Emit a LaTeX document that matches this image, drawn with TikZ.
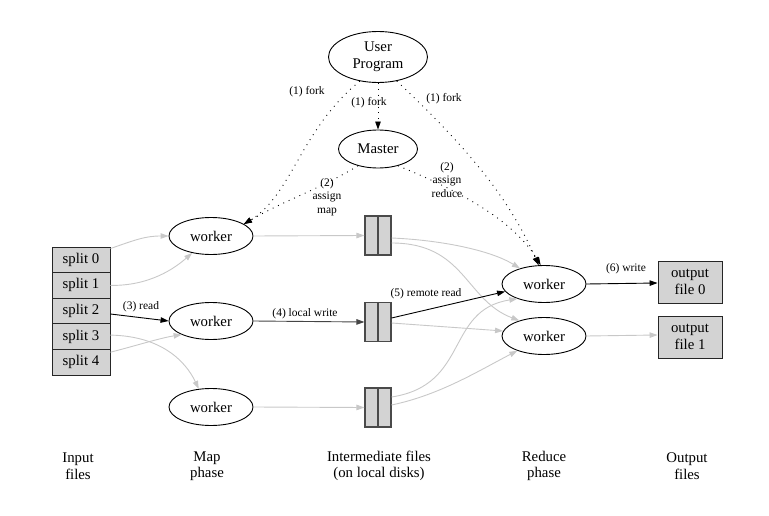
\documentclass[tikz,border=0pt]{standalone}
\usepackage{fontspec}
\setmainfont{Liberation Serif}
\usetikzlibrary{shapes.geometric,arrows.meta}
\definecolor{boxfill}{HTML}{D3D3D3}
\definecolor{lightedge}{HTML}{C8C8C8}
\definecolor{darkedge}{HTML}{454545}
\definecolor{boxline}{HTML}{4A4A4A}
\begin{document}
\begin{tikzpicture}[x=1pt,y=-1pt,
  every node/.style={font=\fontsize{14.8}{17}\selectfont, align=center, inner sep=0pt},
  proc/.style={ellipse, draw, line width=0.9pt, minimum width=84pt, minimum height=37pt},
  splitbox/.style={rectangle, draw=black!85, fill=boxfill, line width=0.9pt, minimum width=58pt, minimum height=25.6pt},
  filebox/.style={rectangle, draw=boxline, fill=boxfill, line width=1.1pt, minimum width=26pt, minimum height=39pt},
  outbox/.style={rectangle, draw=black!85, fill=boxfill, line width=0.9pt, minimum width=64pt, minimum height=42pt},
  lbl/.style={font=\fontsize{11.5}{13.5}\selectfont, fill=none},
  capt/.style={font=\fontsize{14.8}{16.5}\selectfont},
  tip/.style={-{Triangle[length=8pt,width=5.5pt]}},
  greyedge/.style={tip, draw=lightedge, line width=0.9pt},
  blackedge/.style={tip, draw=black, line width=0.9pt},
  dotedge/.style={tip, draw=black, line width=0.9pt, dash pattern=on 0.9pt off 5pt},
]
\path[use as bounding box] (0,0) rectangle (769,516);

% nodes
\node[proc, minimum width=99pt, minimum height=51pt] (up) at (378,57) {User\\Program};
\node[proc, minimum width=79pt, minimum height=38pt] (ms) at (378,149) {Master};

\node[proc] (w1) at (211,236) {worker};
\node[proc] (w2) at (211,321) {worker};
\node[proc] (w3) at (211,407) {worker};

\node[splitbox] (s0) at (81,259.8) {split 0};
\node[splitbox] (s1) at (81,285.4) {split 1};
\node[splitbox] (s2) at (81,311.0) {split 2};
\node[splitbox] (s3) at (81,336.6) {split 3};
\node[splitbox] (s4) at (81,362.2) {split 4};

\node[filebox] (f1) at (378,235.5) {};
\node[filebox] (f2) at (378,322) {};
\node[filebox] (f3) at (378,407.5) {};
\foreach \f in {f1,f2,f3} \draw[boxline, line width=1.1pt] (\f.north) -- (\f.south);

\node[proc] (r1) at (544,284) {worker};
\node[proc] (r2) at (544,336) {worker};

\node[outbox] (o0) at (690,282) {output\\file 0};
\node[outbox] (o1) at (690,337) {output\\file 1};

% captions
\node[capt] (c1) at (78,466) {Input\\files};
\node[capt] (c2) at (207,466) {Map\\phase};
\node[capt] (c3) at (379,466) {Intermediate files\\(on local disks)};
\node[capt] (c4) at (544,466) {Reduce\\phase};
\node[capt] (c5) at (687,466) {Output\\files};

% dotted control edges
\draw[dotedge] (up.233) .. controls (300,130) and (292,195) .. (w1.20);
\draw[dotedge] (up.south) -- (ms.north);
\draw[dotedge] (up.-52) .. controls (470,150) and (510,200) .. (r1.106);
\draw[dotedge] (ms.-140) .. controls (318,190) and (285,200) .. (w1.20);
\draw[dotedge] (ms.-40) .. controls (445,185) and (510,215) .. (r1.100);

\node[lbl] (l1a) at (307,92) {(1) fork};
\node[lbl] (l1b) at (369,103) {(1) fork};
\node[lbl] (l1c) at (444,99) {(1) fork};
\node[lbl] (l2a) at (327,197) {(2)\\assign\\map};
\node[lbl] (l2b) at (447,180) {(2)\\assign\\reduce};

% input splits to map workers
\draw[greyedge] ([yshift=-2pt]s0.north east) .. controls (135,240) and (145,236) .. (w1.west);
\draw[greyedge] (s1.east) .. controls (150,286) and (175,268) .. (w1.222);
\draw[blackedge] ([yshift=-3pt]s2.east) -- (w2.west);
\node[lbl] (l3) at (141,307) {(3) read};
\draw[greyedge] ([yshift=1.5pt]s3.east) .. controls (160,336) and (185,360) .. (w3.124);
\draw[greyedge] ([yshift=10pt]s4.east) .. controls (135,346) and (160,338) .. (w2.205);

% map workers to intermediate files
\draw[greyedge] (w1.east) -- (f1.west);
\draw[tip, draw=darkedge, line width=0.9pt] (w2.east) -- (f2.west);
\node[lbl] (l4) at (305,314) {(4) local write};
\draw[greyedge] (w3.east) -- (f3.west);

% intermediate files to reduce workers
\draw[greyedge] ([yshift=-2.5pt]f1.east) .. controls (440,240) and (490,250) .. (r1.147);
\draw[greyedge] ([yshift=-7.5pt]f1.east) .. controls (465,243) and (465,300) .. (r2.148);
\draw[blackedge] ([yshift=4pt]f2.east) -- (r1.191);
\node[lbl] (l5) at (426,294) {(5) remote read};
\draw[greyedge] ([yshift=-1pt]f2.east) -- (r2.173);
\draw[greyedge] ([yshift=10.5pt]f3.east) .. controls (470,385) and (445,310) .. (r1.209);
\draw[greyedge] ([yshift=2.5pt]f3.east) .. controls (440,395) and (480,370) .. (r2.209);

% reduce workers to outputs
\draw[blackedge] (r1.east) -- ([yshift=-1pt]o0.west);
\node[lbl] (l6) at (626,269) {(6) write};
\draw[greyedge] (r2.east) -- ([yshift=2pt]o1.west);
\end{tikzpicture}
\end{document}
